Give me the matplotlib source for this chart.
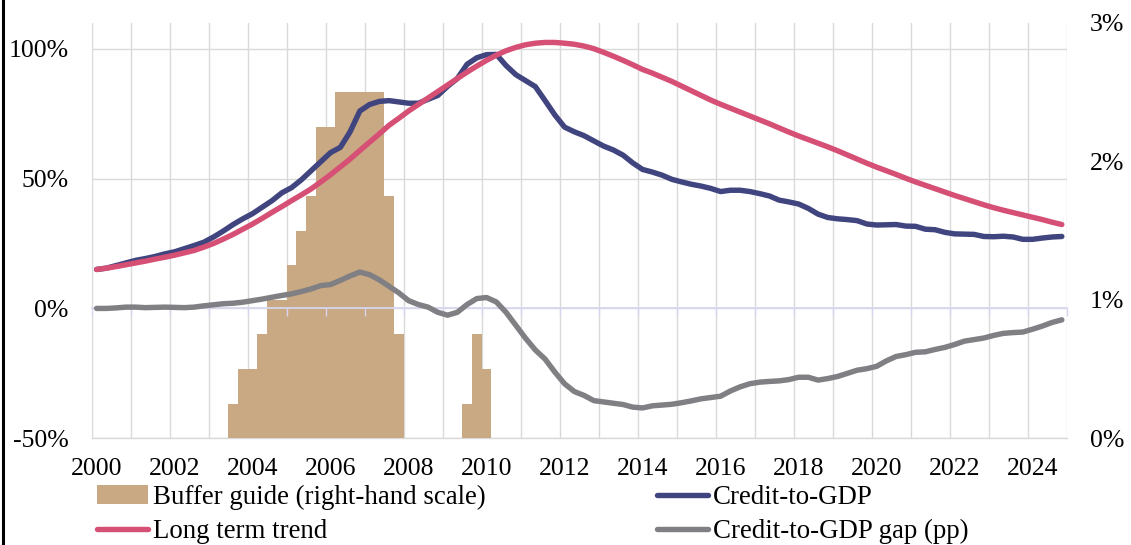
import numpy as np
import matplotlib
matplotlib.use("Agg")
import matplotlib.pyplot as plt
from matplotlib.lines import Line2D
from matplotlib.patches import Patch

plt.rcParams['font.family'] = ['Liberation Serif', 'DejaVu Serif']

# ---------------- data (quarterly, 2000Q1 .. 2024Q4) ----------------
years = list(range(2000, 2025))
quarters = [f"{y}Q{q}" for y in years for q in range(1, 5)]

credit_to_gdp = [
    15.0, 15.5, 16.5, 17.5,   # 2000
    18.5, 19.2, 20.0, 21.0,   # 2001
    21.8, 23.0, 24.2, 25.5,   # 2002
    27.5, 29.8, 32.3, 34.5,   # 2003
    36.5, 39.0, 41.5, 44.5,   # 2004
    46.5, 49.5, 53.0, 56.5,   # 2005
    60.0, 62.0, 68.0, 76.0,   # 2006
    78.5, 79.7, 80.0, 79.5,   # 2007
    79.0, 79.0, 80.5, 82.0,   # 2008
    85.5, 88.5, 94.0, 96.5,   # 2009
    97.7, 97.8, 93.5, 90.0,   # 2010
    87.7, 85.4, 80.0, 74.5,   # 2011
    69.8, 68.0, 66.5, 64.5,   # 2012
    62.5, 61.0, 59.0, 56.0,   # 2013
    53.5, 52.5, 51.3, 49.7,   # 2014
    48.7, 47.8, 47.1, 46.2,   # 2015
    45.0, 45.5, 45.5, 45.0,   # 2016
    44.2, 43.3, 41.7, 41.0,   # 2017
    40.2, 38.5, 36.3, 35.0,   # 2018
    34.5, 34.2, 33.8, 32.5,   # 2019
    32.1, 32.2, 32.3, 31.7,   # 2020
    31.6, 30.5, 30.3, 29.3,   # 2021
    28.7, 28.6, 28.5, 27.7,   # 2022
    27.6, 27.8, 27.5, 26.6,   # 2023
    26.6, 27.1, 27.5, 27.7,   # 2024
]

long_term_trend = [
    15.0, 15.5, 16.1, 16.8,
    17.5, 18.2, 19.0, 19.7,
    20.5, 21.4, 22.3, 23.6,
    25.0, 26.7, 28.5, 30.5,
    32.5, 34.7, 37.0, 39.2,
    41.5, 43.7, 46.0, 48.7,
    51.5, 54.5, 57.5, 60.8,
    64.0, 67.2, 70.5, 73.2,
    76.0, 78.5, 81.0, 83.5,
    86.0, 88.5, 91.0, 93.3,
    95.5, 97.5, 99.2, 100.5,
    101.5, 102.1, 102.4, 102.4,
    102.1, 101.7, 101.0, 100.0,
    98.6, 97.1, 95.5, 93.8,
    92.0, 90.6, 89.0, 87.4,
    85.6, 83.8, 82.0, 80.2,
    78.6, 77.1, 75.6, 74.1,
    72.6, 71.1, 69.5, 67.9,
    66.4, 65.0, 63.6, 62.2,
    60.7, 59.1, 57.5, 55.9,
    54.4, 53.0, 51.6, 50.1,
    48.7, 47.4, 46.1, 44.8,
    43.5, 42.3, 41.1, 39.9,
    38.8, 37.8, 36.9, 36.0,
    35.1, 34.2, 33.2, 32.3,
]

credit_gap = [
    0.0, 0.0, 0.2, 0.5,
    0.5, 0.3, 0.4, 0.5,
    0.4, 0.3, 0.5, 1.0,
    1.4, 1.8, 2.0, 2.4,
    3.0, 3.6, 4.3, 5.0,
    5.6, 6.5, 7.5, 8.8,
    9.2, 10.8, 12.5, 14.0,
    13.0, 11.0, 8.5, 6.0,
    3.0, 1.5, 0.5, -1.5,
    -2.6, -1.5, 1.5, 3.8,
    4.2, 2.5, -1.5, -6.5,
    -11.5, -16.0, -19.5, -24.5,
    -29.0, -32.0, -33.5, -35.5,
    -36.0, -36.5, -37.0, -38.0,
    -38.3, -37.5, -37.2, -36.9,
    -36.3, -35.6, -34.8, -34.3,
    -33.8, -31.8, -30.2, -29.0,
    -28.4, -28.1, -27.9, -27.4,
    -26.5, -26.5, -27.6, -27.0,
    -26.2, -25.0, -23.8, -23.2,
    -22.3, -20.2, -18.5, -17.8,
    -16.9, -16.7, -15.8, -15.0,
    -13.9, -12.6, -12.0, -11.4,
    -10.4, -9.6, -9.3, -9.1,
    -8.0, -6.8, -5.4, -4.4,
]

buffer_guide = [
    0, 0, 0, 0,            # 2000
    0, 0, 0, 0,            # 2001
    0, 0, 0, 0,            # 2002
    0, 0, 0.25, 0.5,       # 2003
    0.5, 0.75, 1.0, 1.0,   # 2004
    1.25, 1.5, 1.75, 2.25, # 2005
    2.25, 2.5, 2.5, 2.5,   # 2006
    2.5, 2.5, 1.75, 0.75,  # 2007
    0, 0, 0, 0,            # 2008
    0, 0, 0.25, 0.75,      # 2009
    0.5, 0, 0, 0,          # 2010
] + [0] * (4 * 14)         # 2011-2024

x_tick_labels = [str(y) for y in years[::2]]
left_ticks = [-50, 0, 50, 100]
left_tick_labels = ["-50%", "0%", "50%", "100%"]
right_ticks = [0, 1, 2, 3]
right_tick_labels = ["0%", "1%", "2%", "3%"]

# ---------------- style ----------------
TAN = "#c9a983"
NAVY = "#41457f"
PINK = "#d64f75"
GRAY = "#7f7f84"
GRID = "#d9d9d9"
LAV = "#d6d6f0"
FS = 18.5
FS_LEG = 19.4
LW = 3.9

W, H = 1131, 545
fig = plt.figure(figsize=(W / 100, H / 100), dpi=100)
L, R, T, B = 91.7, 1066.7, 22.7, 438.3
rect = [L / W, 1 - B / H, (R - L) / W, (B - T) / H]

x = np.arange(len(quarters))

# base axes: gridlines + left scale
ax = fig.add_axes(rect)
ax.set_xlim(-0.5, len(quarters) - 0.5)
ax.set_ylim(-50, 110)
ax.set_yticks(left_ticks)
ax.set_yticklabels(left_tick_labels)
ax.set_xticks(x[::8])
ax.set_xticklabels(x_tick_labels)
ax.set_xticks(np.arange(-0.5, len(quarters), 4), minor=True)
ax.xaxis.grid(True, which='minor', color=GRID, lw=1.0)
ax.yaxis.grid(True, which='major', color=GRID, lw=1.0)
ax.tick_params(axis='both', which='both', length=0, labelsize=FS)
ax.tick_params(axis='y', pad=16.5)
ax.tick_params(axis='x', pad=14)
for s in ax.spines.values():
    s.set_visible(False)
ax.spines['bottom'].set_visible(True)
ax.spines['bottom'].set_color(GRID)
ax.spines['bottom'].set_linewidth(1.0)
ax.set_zorder(0)

# secondary axes: buffer guide bars (right-hand scale)
ax2 = ax.twinx()
ax2.bar(x, buffer_guide, width=1.0, color=TAN, linewidth=0)
ax2.set_ylim(0, 3)
ax2.set_yticks(right_ticks)
ax2.set_yticklabels(right_tick_labels)
ax2.tick_params(axis='y', length=0, labelsize=FS, pad=16.5)
for s in ax2.spines.values():
    s.set_visible(False)
ax2.set_zorder(1)

# top axes: lines + x axis line at 0
ax3 = ax.twinx()
ax3.set_ylim(-50, 110)
ax3.set_yticks([])
ax3.patch.set_visible(False)
for s in ax3.spines.values():
    s.set_visible(False)
ax3.xaxis.set_visible(True)
ax3.spines['bottom'].set_visible(True)
ax3.spines['bottom'].set_position(('data', 0))
ax3.spines['bottom'].set_color(LAV)
ax3.spines['bottom'].set_linewidth(1.3)
ax3.tick_params(axis='x', which='major', length=0, labelbottom=False)
ax3.tick_params(axis='x', which='minor', length=6, width=1.0, color=LAV,
                direction='out', labelbottom=False)
ax3.plot(x, credit_to_gdp, color=NAVY, lw=LW, solid_capstyle='round', zorder=3)
ax3.plot(x, long_term_trend, color=PINK, lw=LW, solid_capstyle='round', zorder=4)
ax3.plot(x, credit_gap, color=GRAY, lw=LW, solid_capstyle='round', zorder=5)
ax3.set_zorder(2)

# legend
handles = [
    Patch(facecolor=TAN, edgecolor='none'),
    Line2D([], [], color=PINK, lw=LW, solid_capstyle='round'),
    Line2D([], [], color=NAVY, lw=LW, solid_capstyle='round'),
    Line2D([], [], color=GRAY, lw=LW, solid_capstyle='round'),
]
labels = ["Buffer guide (right-hand scale)", "Long term trend",
          "Credit-to-GDP", "Credit-to-GDP gap (pp)"]
fig.legend(handles, labels, ncol=2, loc='upper left',
           bbox_to_anchor=(97 / W, 1 - 485 / H), frameon=False,
           fontsize=FS_LEG, borderpad=0, borderaxespad=0,
           handlelength=1.9, handletextpad=0.19, columnspacing=6.35,
           labelspacing=0.33)

# black border on the left edge
fig.add_artist(Line2D([2.5 / W, 2.5 / W], [0, 1], color='black', lw=2.2,
                      transform=fig.transFigure))

fig.savefig("out.png", dpi=100)
